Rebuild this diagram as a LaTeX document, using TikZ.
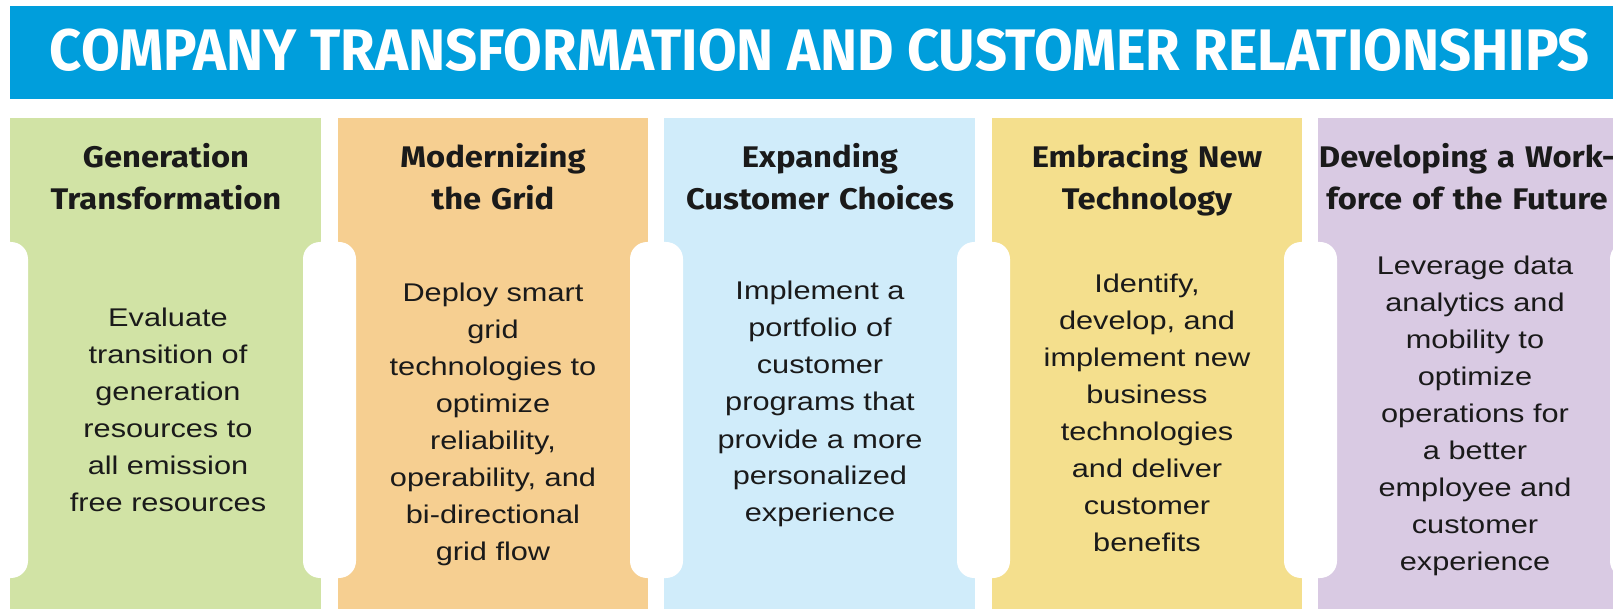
\documentclass[tikz,border=0pt]{standalone}
\usepackage{fontspec}
\usepackage{graphicx}
\newfontfamily\bodyfont{Liberation Sans}[FakeStretch=1.2]
\newfontfamily\headfont{Fira Sans}[FakeStretch=1.1]
\definecolor{banner}{RGB}{0,158,220}
\definecolor{genfill}{RGB}{209,227,165}
\definecolor{gridfill}{RGB}{246,207,145}
\definecolor{custfill}{RGB}{208,236,250}
\definecolor{techfill}{RGB}{244,223,141}
\definecolor{workfill}{RGB}{217,202,227}
\definecolor{ink}{RGB}{26,26,26}
\begin{document}
\begin{tikzpicture}[x=0.5pt,y=-0.5pt,
  heading/.style={anchor=base,text width=155pt,align=center,inner sep=0pt,text=ink,
    font=\headfont\bfseries\fontsize{14.9}{21}\selectfont},
  bodytext/.style={anchor=base,text width=150pt,align=center,inner sep=0pt,text=ink,
    font=\bodyfont\fontsize{12.8}{18.5}\selectfont},
  notch/.style={fill=white,rounded corners=8.5pt}]
				\clip (0,0) rectangle (1613,609);
				\fill[white] (0,0) rectangle (1613,609);
				% banner
				\fill[banner] (10,6) rectangle (1613,99);
				\node[anchor=base,inner sep=0pt,text=white] (title) at (820,71)
					{\resizebox{770pt}{20.8pt}{\headfont\bfseries COMPANY TRANSFORMATION AND CUSTOMER RELATIONSHIPS}};
				% columns
				\fill[genfill] (10,118) rectangle (321,609);
				\fill[gridfill] (338,118) rectangle (648,609);
				\fill[custfill] (664,118) rectangle (975,609);
				\fill[techfill] (992,118) rectangle (1302,609);
				\fill[workfill] (1318,118) rectangle (1629,609);
				% white slots between the columns
				\fill[notch] (-25,242) rectangle (28,578);
				\fill[notch] (303,242) rectangle (356,578);
				\fill[notch] (630,242) rectangle (683,578);
				\fill[notch] (957,242) rectangle (1010,578);
				\fill[notch] (1284,242) rectangle (1337,578);
				\fill[notch] (1610,242) rectangle (1663,578);
				% headings
				\node[heading] (gen) at (166,168) {Generation\\Transformation};
				\node[heading] (grid) at (493,168) {Modernizing\\the Grid};
				\node[heading] (cust) at (820,168) {Expanding\\Customer Choices};
				\node[heading] (tech) at (1147,168) {Embracing New\\Technology};
				\node[heading] (work) at (1467,168) {Developing a Work-\\force of the Future};
				% texts
				\node[bodytext] (gentxt) at (168,327) {Evaluate\\transition of\\generation\\resources to\\all emission\\free resources};
				\node[bodytext] (gridtxt) at (493,302) {Deploy smart\\grid\\technologies to\\optimize\\reliability,\\operability, and\\bi-directional\\grid flow};
				\node[bodytext] (custtxt) at (820,300) {Implement a\\portfolio of\\customer\\programs that\\provide a more\\personalized\\experience};
				\node[bodytext] (techtxt) at (1147,293) {Identify,\\develop, and\\implement new\\business\\technologies\\and deliver\\customer\\benefits};
				\node[bodytext] (worktxt) at (1475,275) {Leverage data\\analytics and\\mobility to\\optimize\\operations for\\a better\\employee and\\customer\\experience};
			\end{tikzpicture}
\end{document}
